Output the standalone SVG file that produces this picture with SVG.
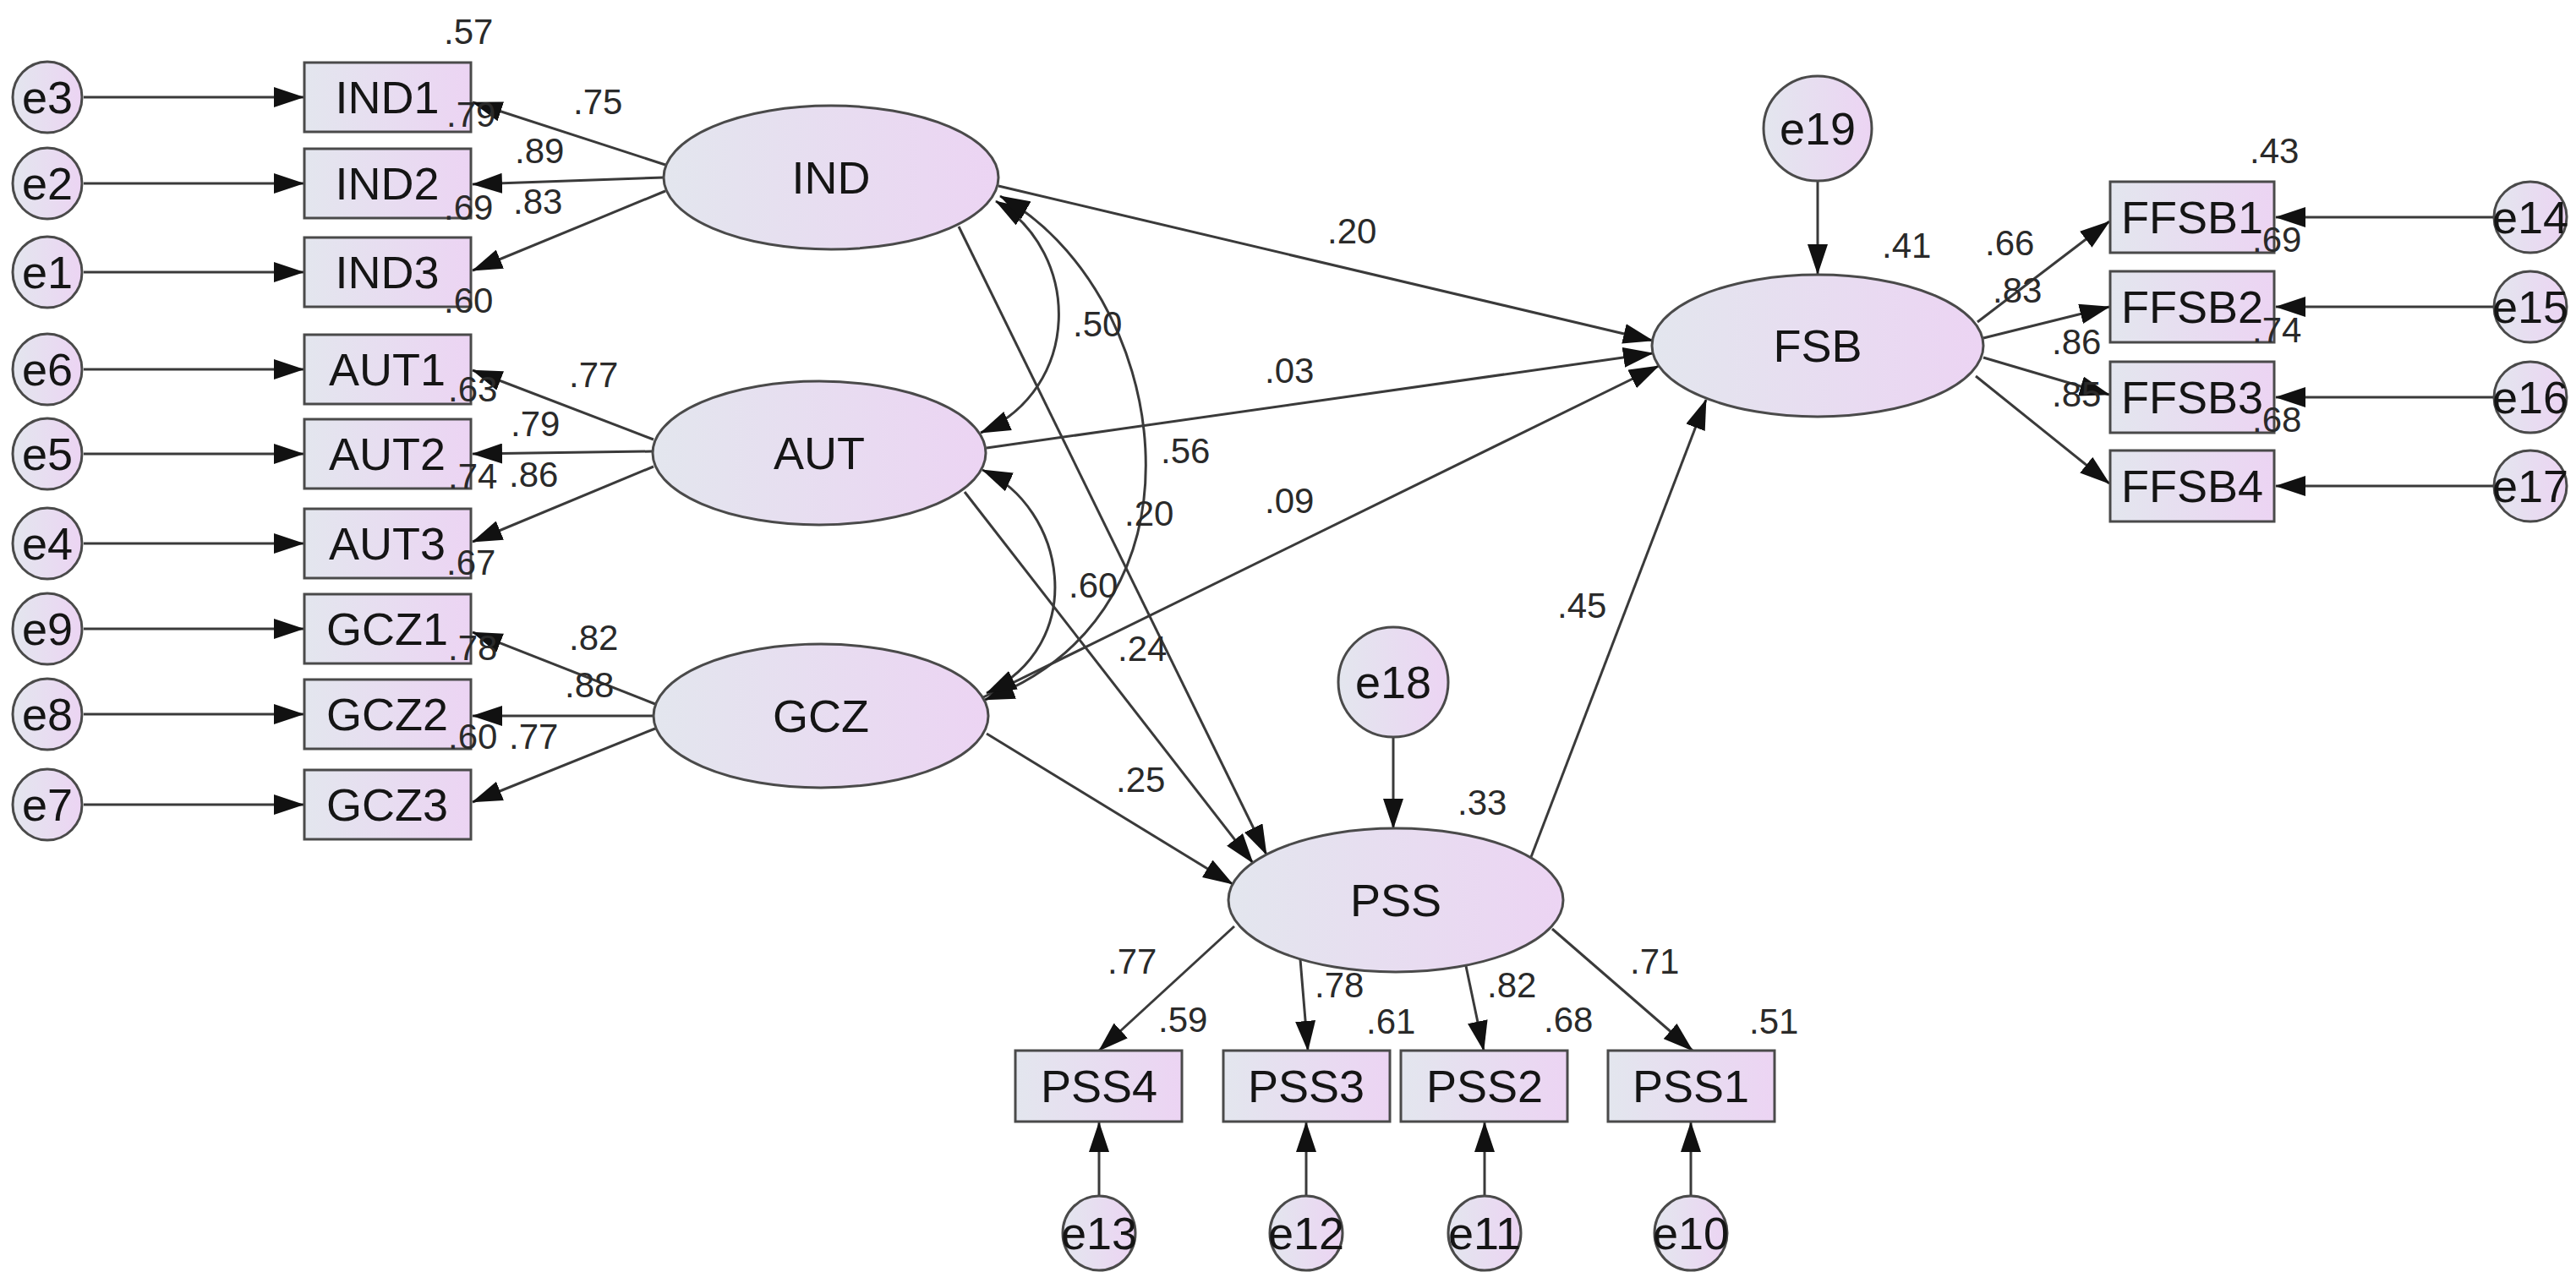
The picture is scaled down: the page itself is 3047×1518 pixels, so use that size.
<svg xmlns="http://www.w3.org/2000/svg" width="3047" height="1518" viewBox="0 0 3047 1518">
<defs>
<linearGradient id="g" x1="0" y1="0" x2="1" y2="0">
<stop offset="0" stop-color="#e3e6ee"/>
<stop offset="1" stop-color="#ecd4f3"/>
</linearGradient>
<marker id="a" markerUnits="userSpaceOnUse" markerWidth="36" markerHeight="24" refX="35" refY="12" orient="auto-start-reverse">
<path d="M0,0 L36,12 L0,24 z" fill="#111"/>
</marker>
<style>
.n{fill:url(#g);stroke:#4a4a4a;stroke-width:3}
.t{font-family:"Liberation Sans",Arial,sans-serif;font-size:54px;fill:#151515;text-anchor:middle;dominant-baseline:central}
.c{font-family:"Liberation Sans",Arial,sans-serif;font-size:42px;fill:#2a2a2a}
.l{fill:none;stroke:#3a3a3a;stroke-width:3;marker-end:url(#a)}
.d{fill:none;stroke:#3a3a3a;stroke-width:3;marker-end:url(#a);marker-start:url(#a)}
</style>
</defs>
<rect width="3047" height="1518" fill="#fff"/>
<g id="connectors">
<line class="l" x1="99" y1="115" x2="359" y2="115"/>
<line class="l" x1="99" y1="217" x2="359" y2="217"/>
<line class="l" x1="99" y1="322" x2="359" y2="322"/>
<line class="l" x1="99" y1="437" x2="359" y2="437"/>
<line class="l" x1="99" y1="537" x2="359" y2="537"/>
<line class="l" x1="99" y1="643" x2="359" y2="643"/>
<line class="l" x1="99" y1="744" x2="359" y2="744"/>
<line class="l" x1="99" y1="845" x2="359" y2="845"/>
<line class="l" x1="99" y1="952" x2="359" y2="952"/>
<line class="l" x1="787" y1="195" x2="559" y2="121"/>
<line class="l" x1="785" y1="210" x2="559" y2="218"/>
<line class="l" x1="787" y1="226" x2="559" y2="320"/>
<line class="l" x1="773" y1="520" x2="559" y2="438"/>
<line class="l" x1="771" y1="534" x2="559" y2="537"/>
<line class="l" x1="773" y1="552" x2="559" y2="641"/>
<line class="l" x1="775" y1="833" x2="559" y2="748"/>
<line class="l" x1="773" y1="847" x2="559" y2="847"/>
<line class="l" x1="775" y1="862" x2="559" y2="949"/>
<line class="l" x1="1181" y1="220" x2="1955" y2="403"/>
<line class="l" x1="1167" y1="530" x2="1955" y2="418"/>
<line class="l" x1="1163" y1="825" x2="1962" y2="433"/>
<line class="l" x1="1134" y1="268" x2="1498" y2="1011"/>
<line class="l" x1="1141" y1="582" x2="1482" y2="1021"/>
<line class="l" x1="1167" y1="868" x2="1458" y2="1046"/>
<line class="l" x1="1811" y1="1014" x2="2018" y2="473"/>
<line class="l" x1="2150" y1="215" x2="2150" y2="324"/>
<line class="l" x1="1648" y1="873" x2="1648" y2="980"/>
<line class="l" x1="2339" y1="381" x2="2495" y2="262"/>
<line class="l" x1="2346" y1="400" x2="2495" y2="363"/>
<line class="l" x1="2346" y1="423" x2="2495" y2="467"/>
<line class="l" x1="2337" y1="445" x2="2495" y2="572"/>
<line class="l" x1="2950" y1="257" x2="2692" y2="257"/>
<line class="l" x1="2950" y1="363" x2="2692" y2="363"/>
<line class="l" x1="2950" y1="470" x2="2692" y2="470"/>
<line class="l" x1="2950" y1="575" x2="2692" y2="575"/>
<line class="l" x1="1460" y1="1096" x2="1300" y2="1243"/>
<line class="l" x1="1538" y1="1135" x2="1547" y2="1243"/>
<line class="l" x1="1734" y1="1143" x2="1755" y2="1243"/>
<line class="l" x1="1836" y1="1099" x2="2002" y2="1243"/>
<line class="l" x1="1300" y1="1415" x2="1300" y2="1328"/>
<line class="l" x1="1545" y1="1415" x2="1545" y2="1328"/>
<line class="l" x1="1756" y1="1415" x2="1756" y2="1328"/>
<line class="l" x1="2000" y1="1415" x2="2000" y2="1328"/>
<path class="d" d="M1178,238 C1280,300 1280,460 1160,512"/>
<path class="d" d="M1183,232 C1380,340 1450,720 1165,828"/>
<path class="d" d="M1162,556 C1260,600 1290,760 1167,820"/>
</g>
<g id="e3"><ellipse class="n" cx="56" cy="115" rx="41" ry="42"/><text class="t" x="56" y="115">e3</text></g>
<g id="e2"><ellipse class="n" cx="56" cy="217" rx="41" ry="42"/><text class="t" x="56" y="217">e2</text></g>
<g id="e1"><ellipse class="n" cx="56" cy="322" rx="41" ry="42"/><text class="t" x="56" y="322">e1</text></g>
<g id="e6"><ellipse class="n" cx="56" cy="437" rx="41" ry="42"/><text class="t" x="56" y="437">e6</text></g>
<g id="e5"><ellipse class="n" cx="56" cy="537" rx="41" ry="42"/><text class="t" x="56" y="537">e5</text></g>
<g id="e4"><ellipse class="n" cx="56" cy="643" rx="41" ry="42"/><text class="t" x="56" y="643">e4</text></g>
<g id="e9"><ellipse class="n" cx="56" cy="744" rx="41" ry="42"/><text class="t" x="56" y="744">e9</text></g>
<g id="e8"><ellipse class="n" cx="56" cy="845" rx="41" ry="42"/><text class="t" x="56" y="845">e8</text></g>
<g id="e7"><ellipse class="n" cx="56" cy="952" rx="41" ry="42"/><text class="t" x="56" y="952">e7</text></g>
<g id="IND1"><rect class="n" x="360" y="74" width="197" height="82"/><text class="t" x="458" y="115">IND1</text></g>
<g id="IND2"><rect class="n" x="360" y="176" width="197" height="82"/><text class="t" x="458" y="217">IND2</text></g>
<g id="IND3"><rect class="n" x="360" y="281" width="197" height="82"/><text class="t" x="458" y="322">IND3</text></g>
<g id="AUT1"><rect class="n" x="360" y="396" width="197" height="82"/><text class="t" x="458" y="437">AUT1</text></g>
<g id="AUT2"><rect class="n" x="360" y="496" width="197" height="82"/><text class="t" x="458" y="537">AUT2</text></g>
<g id="AUT3"><rect class="n" x="360" y="602" width="197" height="82"/><text class="t" x="458" y="643">AUT3</text></g>
<g id="GCZ1"><rect class="n" x="360" y="703" width="197" height="82"/><text class="t" x="458" y="744">GCZ1</text></g>
<g id="GCZ2"><rect class="n" x="360" y="804" width="197" height="82"/><text class="t" x="458" y="845">GCZ2</text></g>
<g id="GCZ3"><rect class="n" x="360" y="911" width="197" height="82"/><text class="t" x="458" y="952">GCZ3</text></g>
<g id="IND"><ellipse class="n" cx="983" cy="210" rx="198" ry="85"/><text class="t" x="983" y="210">IND</text></g>
<g id="AUT"><ellipse class="n" cx="969" cy="536" rx="197" ry="85"/><text class="t" x="969" y="536">AUT</text></g>
<g id="GCZ"><ellipse class="n" cx="971" cy="847" rx="198" ry="85"/><text class="t" x="971" y="847">GCZ</text></g>
<g id="FSB"><ellipse class="n" cx="2150" cy="409" rx="196" ry="84"/><text class="t" x="2150" y="409">FSB</text></g>
<g id="PSS"><ellipse class="n" cx="1651" cy="1065" rx="198" ry="85"/><text class="t" x="1651" y="1065">PSS</text></g>
<g id="e19"><ellipse class="n" cx="2150" cy="152" rx="64" ry="62"/><text class="t" x="2150" y="152">e19</text></g>
<g id="e18"><ellipse class="n" cx="1648" cy="807" rx="65" ry="65"/><text class="t" x="1648" y="807">e18</text></g>
<g id="FFSB1"><rect class="n" x="2496" y="215" width="194" height="84"/><text class="t" x="2593" y="257">FFSB1</text></g>
<g id="FFSB2"><rect class="n" x="2496" y="321" width="194" height="84"/><text class="t" x="2593" y="363">FFSB2</text></g>
<g id="FFSB3"><rect class="n" x="2496" y="428" width="194" height="84"/><text class="t" x="2593" y="470">FFSB3</text></g>
<g id="FFSB4"><rect class="n" x="2496" y="533" width="194" height="84"/><text class="t" x="2593" y="575">FFSB4</text></g>
<g id="e14"><ellipse class="n" cx="2993" cy="257" rx="43" ry="42"/><text class="t" x="2993" y="257">e14</text></g>
<g id="e15"><ellipse class="n" cx="2993" cy="363" rx="43" ry="42"/><text class="t" x="2993" y="363">e15</text></g>
<g id="e16"><ellipse class="n" cx="2993" cy="470" rx="43" ry="42"/><text class="t" x="2993" y="470">e16</text></g>
<g id="e17"><ellipse class="n" cx="2993" cy="575" rx="43" ry="42"/><text class="t" x="2993" y="575">e17</text></g>
<g id="PSS4"><rect class="n" x="1201" y="1243" width="197" height="84"/><text class="t" x="1300" y="1285">PSS4</text></g>
<g id="PSS3"><rect class="n" x="1447" y="1243" width="197" height="84"/><text class="t" x="1545" y="1285">PSS3</text></g>
<g id="PSS2"><rect class="n" x="1657" y="1243" width="197" height="84"/><text class="t" x="1756" y="1285">PSS2</text></g>
<g id="PSS1"><rect class="n" x="1902" y="1243" width="197" height="84"/><text class="t" x="2000" y="1285">PSS1</text></g>
<g id="e13"><ellipse class="n" cx="1300" cy="1459" rx="43" ry="44"/><text class="t" x="1300" y="1459">e13</text></g>
<g id="e12"><ellipse class="n" cx="1545" cy="1459" rx="43" ry="44"/><text class="t" x="1545" y="1459">e12</text></g>
<g id="e11"><ellipse class="n" cx="1756" cy="1459" rx="43" ry="44"/><text class="t" x="1756" y="1459">e11</text></g>
<g id="e10"><ellipse class="n" cx="2000" cy="1459" rx="43" ry="44"/><text class="t" x="2000" y="1459">e10</text></g>
<g id="labels">
<text class="c" x="525" y="52">.57</text>
<text class="c" x="678" y="135">.75</text>
<text class="c" x="528" y="150">.79</text>
<text class="c" x="609" y="193">.89</text>
<text class="c" x="525" y="260">.69</text>
<text class="c" x="607" y="253">.83</text>
<text class="c" x="525" y="370">.60</text>
<text class="c" x="673" y="458">.77</text>
<text class="c" x="530" y="475">.63</text>
<text class="c" x="604" y="516">.79</text>
<text class="c" x="530" y="578">.74</text>
<text class="c" x="602" y="576">.86</text>
<text class="c" x="528" y="680">.67</text>
<text class="c" x="673" y="769">.82</text>
<text class="c" x="530" y="781">.78</text>
<text class="c" x="668" y="825">.88</text>
<text class="c" x="530" y="886">.60</text>
<text class="c" x="602" y="886">.77</text>
<text class="c" x="1269" y="398">.50</text>
<text class="c" x="1373" y="548">.56</text>
<text class="c" x="1330" y="622">.20</text>
<text class="c" x="1264" y="707">.60</text>
<text class="c" x="1322" y="782">.24</text>
<text class="c" x="1320" y="937">.25</text>
<text class="c" x="1570" y="288">.20</text>
<text class="c" x="1496" y="453">.03</text>
<text class="c" x="1496" y="607">.09</text>
<text class="c" x="1842" y="731">.45</text>
<text class="c" x="1724" y="964">.33</text>
<text class="c" x="2226" y="305">.41</text>
<text class="c" x="2661" y="193">.43</text>
<text class="c" x="2348" y="302">.66</text>
<text class="c" x="2357" y="358">.83</text>
<text class="c" x="2664" y="298">.69</text>
<text class="c" x="2427" y="419">.86</text>
<text class="c" x="2664" y="405">.74</text>
<text class="c" x="2427" y="481">.85</text>
<text class="c" x="2664" y="511">.68</text>
<text class="c" x="1310" y="1152">.77</text>
<text class="c" x="1370" y="1221">.59</text>
<text class="c" x="1555" y="1180">.78</text>
<text class="c" x="1616" y="1223">.61</text>
<text class="c" x="1759" y="1180">.82</text>
<text class="c" x="1826" y="1221">.68</text>
<text class="c" x="1928" y="1152">.71</text>
<text class="c" x="2069" y="1223">.51</text>
</g>
</svg>
